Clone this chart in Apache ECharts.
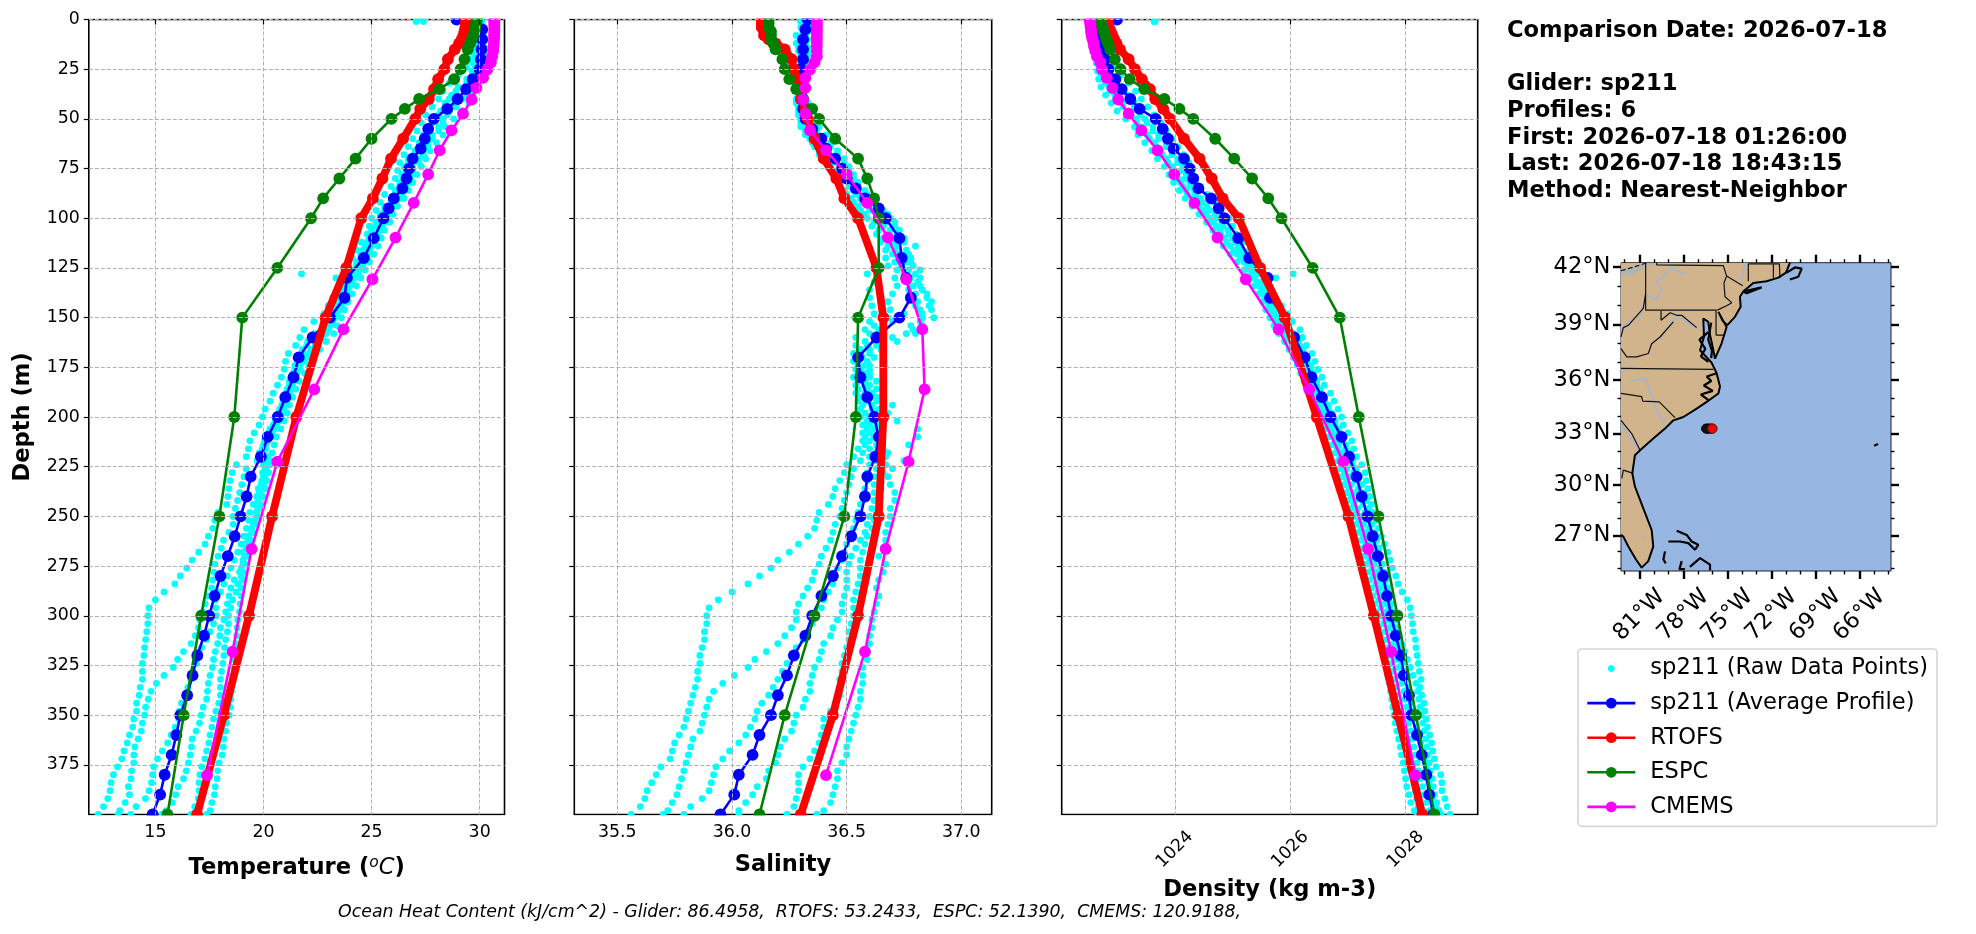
<!DOCTYPE html>
<html><head><meta charset="utf-8">
<script src="https://cdn.jsdelivr.net/npm/echarts@6/dist/echarts.min.js"></script>
<style>html,body{margin:0;padding:0;background:#fff}#c{width:1976px;height:934px}</style></head>
<body><div id="c"></div>
<script>
// ---------- depth levels ----------
const avgDepth=[0,5,10,15,20,25,30,35,40,45,50,55,60,65,70,75,80,85,90,95,100,110,120,130,140,150,160,170,180,190,200,210,220,230,240,250,260,270,280,290,300,310,320,330,340,350,360,370,380,390,400];
const hycomDepth=[0,2,4,6,8,10,12,15,20,25,30,35,40,45,50,60,70,80,90,100,125,150,200,250,300,350,400];
const cmemsDepth=[0.5,1.5,2.6,3.8,5.1,6.4,7.9,9.6,11.4,13.5,15.8,18.5,21.6,25.2,29.4,34.4,40.3,47.4,55.8,65.8,77.9,92.3,109.7,130.7,155.9,186.1,222.5,266.4,318.1,380.2];
const rawDepthEven=[1,4,8,12,16,20,24,28,32,36,40,44,48,52,56,60,64,68,72,76,80,84,88,92,96,100,104,108,112,116,120,124,128,132,136,140,144,148,152,156,160,164,168,172,176,180,184,188,192,196,200,204,208,212,216,220,224,228,232,236,240,244,248,252,256,260,264,268,272,276,280,284,288,292,296,300,304,308,312,316,320,324,328,332,336,340,344,348,352,356,360,364,368,372,376,380,384,388,392,396,400];
const rawDepthOdd=[1,6,10,14,18,22,26,30,34,38,42,46,50,54,58,62,66,70,74,78,82,86,90,94,98,102,106,110,114,118,122,126,130,134,138,142,146,150,154,158,162,166,170,174,178,182,186,190,194,198,202,206,210,214,218,222,226,230,234,238,242,246,250,254,258,262,266,270,274,278,282,286,290,294,298,302,306,310,314,318,322,326,330,334,338,342,346,350,354,358,362,366,370,374,378,382,386,390,394,398,400];
// ---------- temperature ----------
const tempAvg=[28.93,30.12,30.12,30.09,30.06,30.0,29.68,29.37,28.98,28.5,27.88,27.62,27.46,27.27,26.9,26.74,26.62,26.43,26.03,25.79,25.55,25.1,24.64,23.86,23.75,23.08,22.27,21.63,21.39,21.01,20.66,20.2,19.88,19.41,19.22,18.94,18.67,18.35,18.01,17.74,17.49,17.25,16.94,16.72,16.47,16.15,15.97,15.75,15.43,15.22,14.87];
const tempRtofs=[29.37,29.36,29.34,29.3,29.25,29.17,29.05,28.85,28.53,28.37,28.08,27.89,27.65,27.25,27.02,26.46,25.9,25.5,25.06,24.52,23.83,22.87,21.52,20.4,19.33,18.17,16.93];
const tempEspc=[29.88,29.83,29.8,29.77,29.72,29.64,29.56,29.45,29.3,29.12,28.82,28.15,27.2,26.54,25.92,25.0,24.26,23.51,22.76,22.2,20.64,19.02,18.65,17.96,17.12,16.31,15.56];
const tempCmems=[30.68,30.68,30.68,30.68,30.68,30.68,30.67,30.67,30.66,30.64,30.63,30.58,30.52,30.35,30.16,29.85,29.63,29.23,28.7,28.15,27.62,26.95,26.11,25.04,23.7,22.35,20.64,19.45,18.57,17.39];
const tempRawA=[27.06,29.6,29.6,29.6,29.6,29.55,29.4,29.0,28.6,28.3,28.1,27.8,27.5,27.3,27.1,26.9,26.7,26.5,26.3,26.2,26.1,25.9,25.6,25.4,25.2,25.0,24.9,24.8,24.5,24.3,24.1,23.9,21.76,23.6,23.5,23.2,23.0,22.8,22.33,21.87,21.68,21.49,21.15,21.02,20.96,20.83,20.65,20.45,20.3,20.08,19.95,19.8,19.57,19.37,19.3,19.2,18.75,18.55,18.45,18.4,18.35,18.3,17.9,17.75,17.65,17.45,17.3,17.0,16.7,16.45,16.15,15.9,15.4,15.0,14.7,14.65,14.65,14.6,14.55,14.5,14.47,14.4,14.4,14.4,14.3,14.25,14.13,14.13,14.0,13.95,13.8,13.7,13.55,13.45,13.25,13.06,12.95,12.9,12.8,12.6,12.35];
const tempRawB=[27.4,29.8,29.8,29.75,29.75,29.7,29.65,29.4,29.0,28.7,28.4,28.2,27.9,27.6,27.4,27.2,27.0,26.7,26.5,26.4,26.3,26.1,25.9,25.6,25.4,25.2,25.0,24.9,24.7,24.5,24.3,24.1,23.35,23.7,23.6,23.4,23.2,23.0,22.8,22.35,22.05,21.8,21.6,21.45,21.35,21.2,21.1,21.0,20.85,20.7,20.55,20.3,20.1,20.0,19.8,19.7,19.2,19.1,19.0,18.9,18.8,18.7,18.6,18.6,18.4,18.15,18.05,17.9,17.75,17.7,17.65,17.6,17.4,17.3,17.2,17.05,17.0,16.85,16.65,16.3,16.03,15.83,15.4,15.05,14.8,14.67,14.55,14.5,14.4,14.35,14.2,14.05,14.0,14.0,13.9,13.87,13.75,13.8,13.6,13.35,13.28];
const tempRawC=[29.7,29.9,29.9,29.9,29.9,29.85,29.8,29.65,29.4,28.9,28.6,28.4,28.1,27.8,27.6,27.4,27.2,27.0,26.7,26.6,26.5,26.3,26.1,25.9,25.6,25.4,25.2,25.0,24.8,24.6,24.5,24.3,24.1,23.8,23.7,23.6,23.4,23.2,23.0,22.7,22.3,22.0,21.8,21.6,21.45,21.3,21.2,21.05,20.9,20.75,20.65,20.45,20.25,20.05,19.95,20.0,20.0,19.96,19.92,19.76,19.69,19.53,19.37,19.32,19.21,19.1,18.97,18.81,18.65,18.49,18.33,18.17,18.01,17.77,17.8,17.82,17.69,17.53,17.37,17.14,17.01,16.9,16.74,16.63,16.5,16.42,16.21,16.1,16.07,15.91,15.73,15.57,15.32,15.1,14.92,14.87,14.82,14.71,14.54,14.11,13.87];
const tempRawD=[29.8,30.0,30.0,30.0,30.0,30.0,29.95,29.8,29.6,29.3,28.9,28.6,28.3,28.1,27.8,27.6,27.4,27.2,26.9,26.8,26.7,26.5,26.3,26.0,25.8,25.6,25.4,25.2,25.0,24.8,24.6,24.4,24.2,24.0,23.8,23.7,23.5,23.3,23.1,22.9,22.5,22.2,22.0,21.7,21.55,21.4,21.3,21.1,21.0,20.85,20.7,20.5,20.3,20.1,20.0,20.05,20.1,20.05,20.0,19.84,19.76,19.76,19.69,19.53,19.45,19.29,19.21,19.13,19.05,18.89,18.65,18.49,18.41,18.33,18.25,18.17,18.01,17.98,17.88,17.77,17.69,17.64,17.53,17.45,17.41,17.37,17.21,17.12,17.04,16.88,16.7,16.67,16.61,16.53,16.43,16.3,16.05,15.94,15.78,15.5,15.3];
const tempRawE=[30.0,30.1,30.1,30.1,30.1,30.05,30.05,29.95,29.8,29.5,29.2,28.9,28.5,28.3,28.1,27.8,27.6,27.4,27.2,26.9,26.8,26.6,26.4,26.1,25.9,25.7,25.5,25.3,25.1,24.9,24.8,24.6,24.4,24.1,23.9,23.8,23.6,23.4,23.2,23.0,22.7,22.4,22.1,21.9,21.7,21.5,21.35,21.2,21.05,20.95,20.8,20.6,20.4,20.2,20.1,20.2,20.3,20.24,20.16,20.08,19.96,19.84,19.69,19.61,19.45,19.32,19.16,19.05,19.05,18.97,18.97,18.81,18.73,18.57,18.49,18.38,18.38,18.33,18.25,18.2,18.17,18.12,18.06,18.01,18.01,18.01,17.93,17.8,17.69,17.61,17.53,17.47,17.37,17.29,17.14,17.06,17.02,17.02,16.98,16.82,16.65];
const tempRawF=[30.1,30.2,30.2,30.2,30.2,30.15,30.1,30.05,29.95,29.7,29.5,29.2,28.8,28.4,28.3,28.0,27.7,27.5,27.3,27.1,26.9,26.7,26.5,26.2,26.0,25.85,25.6,25.45,25.3,25.1,24.9,24.7,24.5,24.3,24.1,23.9,23.75,23.6,23.4,23.25,22.9,22.6,22.3,22.1,21.9,21.65,21.5,21.35,21.2,21.1,20.95,20.8,20.6,20.5,20.4,20.3,20.1,20.0,19.89,19.8,19.76,19.73,19.69,19.61,19.53,19.4,19.37,19.21,19.16,19.05,19.02,18.97,18.97,18.92,18.89,18.81,18.78,18.76,18.73,18.68,18.65,18.62,18.59,18.55,18.52,18.49,18.46,18.41,18.3,18.25,18.17,18.14,18.09,17.95,17.88,17.85,17.77,17.73,17.61,17.53,17.37];
// ---------- salinity ----------
const salAvg=[36.33,36.32,36.31,36.31,36.31,36.30,36.31,36.31,36.31,36.31,36.32,36.35,36.39,36.41,36.45,36.48,36.50,36.54,36.58,36.64,36.67,36.73,36.74,36.76,36.78,36.73,36.63,36.55,36.56,36.59,36.62,36.64,36.625,36.59,36.58,36.56,36.52,36.48,36.44,36.39,36.35,36.32,36.27,36.24,36.20,36.17,36.12,36.09,36.03,36.01,35.95];
const salRtofs=[36.13,36.13,36.13,36.14,36.14,36.16,36.19,36.23,36.26,36.27,36.29,36.30,36.30,36.32,36.33,36.36,36.40,36.455,36.49,36.55,36.63,36.66,36.66,36.64,36.55,36.44,36.30];
const salEspc=[36.16,36.16,36.16,36.17,36.17,36.17,36.18,36.19,36.22,36.23,36.25,36.28,36.31,36.35,36.38,36.45,36.55,36.59,36.62,36.64,36.64,36.55,36.54,36.49,36.36,36.23,36.12];
const salCmems=[36.37,36.37,36.37,36.37,36.37,36.37,36.37,36.37,36.37,36.37,36.37,36.37,36.36,36.34,36.32,36.32,36.31,36.32,36.34,36.41,36.50,36.59,36.68,36.76,36.83,36.84,36.77,36.67,36.58,36.41];
const salRawA=[36.30,36.30,36.28,36.28,36.29,36.30,36.29,36.29,36.28,36.28,36.28,36.29,36.29,36.30,36.32,36.34,36.36,36.38,36.41,36.43,36.45,36.47,36.50,36.53,36.56,36.59,36.61,36.63,36.65,36.67,36.67,36.68,36.59,36.62,36.60,36.60,36.61,36.62,36.60,36.58,36.54,36.54,36.53,36.53,36.54,36.53,36.54,36.54,36.55,36.56,36.56,36.57,36.57,36.57,36.55,36.53,36.50,36.49,36.47,36.45,36.44,36.42,36.38,36.37,36.36,36.33,36.29,36.25,36.20,36.17,36.12,36.07,36.00,35.94,35.90,35.89,35.89,35.88,35.88,35.87,35.86,35.86,35.85,35.85,35.84,35.83,35.82,35.81,35.80,35.79,35.77,35.75,35.74,35.73,35.69,35.67,35.65,35.63,35.62,35.60,35.56];
const salRawB=[36.30,36.31,36.30,36.29,36.30,36.30,36.30,36.29,36.29,36.29,36.28,36.29,36.30,36.30,36.32,36.35,36.38,36.40,36.43,36.45,36.47,36.49,36.52,36.55,36.58,36.62,36.64,36.66,36.68,36.70,36.71,36.72,36.71,36.72,36.70,36.68,36.69,36.68,36.62,36.60,36.58,36.56,36.55,36.55,36.55,36.55,36.55,36.56,36.57,36.58,36.59,36.59,36.58,36.58,36.57,36.56,36.53,36.52,36.51,36.50,36.49,36.48,36.47,36.45,36.44,36.43,36.41,36.39,36.38,36.36,36.35,36.33,36.31,36.29,36.28,36.28,36.26,36.23,36.20,36.15,36.10,36.07,36.01,35.96,35.92,35.90,35.89,35.88,35.87,35.86,35.83,35.82,35.81,35.80,35.79,35.78,35.77,35.76,35.74,35.72,35.70];
const salRawC=[36.33,36.32,36.31,36.30,36.31,36.31,36.30,36.30,36.30,36.29,36.29,36.29,36.30,36.31,36.33,36.36,36.39,36.42,36.45,36.47,36.49,36.51,36.54,36.57,36.60,36.64,36.66,36.68,36.70,36.71,36.73,36.74,36.75,36.76,36.77,36.78,36.80,36.75,36.70,36.64,36.62,36.59,36.56,36.55,36.56,36.57,36.58,36.58,36.59,36.61,36.60,36.60,36.60,36.60,36.60,36.60,36.60,36.59,36.59,36.58,36.57,36.56,36.55,36.54,36.53,36.51,36.50,36.49,36.48,36.46,36.45,36.44,36.42,36.40,36.39,36.37,36.35,36.33,36.31,36.28,36.26,36.24,36.22,36.20,36.18,36.16,36.13,36.11,36.10,36.08,36.06,36.03,35.99,35.96,35.93,35.92,35.91,35.90,35.87,35.82,35.79];
const salRawD=[36.34,36.33,36.32,36.31,36.32,36.31,36.31,36.30,36.30,36.30,36.30,36.30,36.31,36.33,36.35,36.38,36.41,36.44,36.47,36.49,36.51,36.53,36.56,36.60,36.63,36.67,36.69,36.71,36.72,36.73,36.76,36.77,36.78,36.79,36.80,36.81,36.82,36.83,36.78,36.76,36.66,36.60,36.57,36.58,36.58,36.58,36.59,36.60,36.61,36.62,36.62,36.62,36.62,36.63,36.63,36.63,36.63,36.62,36.62,36.62,36.62,36.61,36.60,36.59,36.58,36.56,36.54,36.52,36.51,36.50,36.50,36.50,36.49,36.48,36.48,36.46,36.44,36.43,36.40,36.39,36.38,36.36,36.35,36.34,36.34,36.32,36.31,36.28,36.27,36.26,36.23,36.21,36.20,36.19,36.16,36.15,36.11,36.09,36.06,36.03,36.03];
const salRawE=[36.35,36.34,36.32,36.32,36.33,36.32,36.32,36.31,36.31,36.31,36.31,36.32,36.33,36.35,36.37,36.40,36.43,36.46,36.49,36.51,36.53,36.55,36.59,36.62,36.66,36.69,36.71,36.72,36.75,36.76,36.78,36.79,36.80,36.81,36.83,36.85,36.86,36.83,36.82,36.79,36.70,36.63,36.60,36.59,36.60,36.60,36.60,36.61,36.63,36.64,36.65,36.64,36.64,36.65,36.66,36.67,36.67,36.66,36.65,36.65,36.64,36.64,36.63,36.62,36.61,36.59,36.58,36.57,36.56,36.56,36.56,36.55,36.54,36.53,36.53,36.53,36.52,36.51,36.51,36.50,36.49,36.48,36.48,36.47,36.47,36.47,36.45,36.43,36.40,36.40,36.39,36.38,36.36,36.34,36.31,36.29,36.29,36.29,36.28,36.27,36.24];
const salRawF=[36.36,36.33,36.33,36.33,36.33,36.33,36.32,36.32,36.31,36.31,36.33,36.35,36.37,36.38,36.41,36.43,36.46,36.49,36.51,36.53,36.55,36.58,36.61,36.64,36.68,36.71,36.73,36.75,36.80,36.77,36.78,36.82,36.82,36.82,36.85,36.87,36.87,36.88,36.83,36.80,36.72,36.65,36.62,36.60,36.60,36.63,36.63,36.63,36.70,36.68,36.72,36.81,36.81,36.77,36.68,36.75,36.70,36.68,36.69,36.71,36.71,36.69,36.69,36.68,36.67,36.67,36.66,36.64,36.67,36.66,36.64,36.63,36.64,36.63,36.62,36.61,36.61,36.60,36.60,36.59,36.59,36.57,36.57,36.57,36.56,36.56,36.55,36.54,36.53,36.52,36.51,36.50,36.50,36.48,36.46,36.46,36.45,36.44,36.43,36.40,36.37];
// ---------- density ----------
const denAvg=[1023.0,1022.68,1022.71,1022.74,1022.79,1022.85,1022.97,1023.08,1023.23,1023.39,1023.67,1023.79,1023.88,1023.98,1024.16,1024.26,1024.32,1024.41,1024.63,1024.76,1024.86,1025.10,1025.29,1025.61,1025.65,1025.91,1026.07,1026.25,1026.37,1026.55,1026.70,1026.89,1027.02,1027.15,1027.24,1027.34,1027.43,1027.52,1027.61,1027.68,1027.75,1027.83,1027.92,1027.97,1028.06,1028.10,1028.20,1028.28,1028.36,1028.41,1028.48];
const denRtofs=[1022.84,1022.84,1022.86,1022.89,1022.92,1022.95,1022.99,1023.05,1023.20,1023.31,1023.43,1023.57,1023.66,1023.80,1023.92,1024.16,1024.43,1024.64,1024.83,1025.11,1025.48,1025.91,1026.46,1027.01,1027.45,1027.87,1028.29];
const denEspc=[1022.71,1022.73,1022.75,1022.77,1022.79,1022.82,1022.84,1022.88,1022.96,1023.06,1023.22,1023.47,1023.82,1024.08,1024.32,1024.70,1025.03,1025.34,1025.62,1025.85,1026.39,1026.86,1027.19,1027.53,1027.86,1028.18,1028.50];
const denCmems=[1022.53,1022.53,1022.54,1022.54,1022.55,1022.55,1022.56,1022.57,1022.59,1022.6,1022.62,1022.65,1022.71,1022.74,1022.82,1022.92,1023.02,1023.2,1023.42,1023.7,1023.99,1024.34,1024.74,1025.23,1025.8,1026.33,1026.92,1027.35,1027.75,1028.17];
const denRawA=[1023.66,1022.75,1022.76,1022.78,1022.8,1022.84,1022.92,1023.06,1023.2,1023.32,1023.42,1023.53,1023.64,1023.76,1023.85,1023.95,1024.05,1024.15,1024.24,1024.3,1024.36,1024.44,1024.56,1024.68,1024.8,1024.94,1025.0,1025.06,1025.2,1025.3,1025.4,1025.46,1026.05,1025.62,1025.68,1025.75,1025.85,1025.95,1026.04,1026.17,1026.21,1026.28,1026.38,1026.43,1026.48,1026.55,1026.59,1026.7,1026.76,1026.83,1026.89,1026.92,1027.0,1027.07,1027.1,1027.15,1027.24,1027.30,1027.32,1027.35,1027.38,1027.41,1027.44,1027.49,1027.53,1027.58,1027.63,1027.69,1027.73,1027.77,1027.83,1027.87,1027.94,1028.03,1028.08,1028.10,1028.12,1028.13,1028.17,1028.18,1028.20,1028.22,1028.24,1028.27,1028.25,1028.28,1028.32,1028.33,1028.36,1028.38,1028.42,1028.45,1028.47,1028.50,1028.53,1028.61,1028.63,1028.63,1028.68,1028.72,1028.77];
const denRawB=[1023.64,1022.72,1022.73,1022.74,1022.76,1022.78,1022.82,1022.92,1023.04,1023.18,1023.3,1023.38,1023.48,1023.62,1023.72,1023.85,1023.95,1024.05,1024.14,1024.2,1024.26,1024.34,1024.44,1024.56,1024.7,1024.82,1024.92,1025.0,1025.1,1025.2,1025.32,1025.4,1025.75,1025.55,1025.62,1025.7,1025.78,1025.86,1025.96,1026.06,1026.15,1026.22,1026.3,1026.36,1026.4,1026.46,1026.52,1026.58,1026.66,1026.72,1026.78,1026.84,1026.9,1026.97,1027.02,1027.08,1027.14,1027.2,1027.24,1027.28,1027.32,1027.36,1027.4,1027.42,1027.46,1027.5,1027.54,1027.57,1027.6,1027.63,1027.66,1027.69,1027.72,1027.75,1027.78,1027.82,1027.85,1027.89,1027.93,1027.98,1028.03,1028.08,1028.13,1028.18,1028.21,1028.23,1028.25,1028.27,1028.3,1028.32,1028.35,1028.37,1028.38,1028.41,1028.43,1028.46,1028.48,1028.5,1028.54,1028.58,1028.62];
const denRawC=[1022.85,1022.7,1022.7,1022.71,1022.72,1022.73,1022.76,1022.84,1022.95,1023.08,1023.2,1023.3,1023.4,1023.52,1023.62,1023.72,1023.85,1023.95,1024.05,1024.12,1024.18,1024.26,1024.36,1024.48,1024.6,1024.72,1024.84,1024.94,1025.04,1025.14,1025.26,1025.36,1025.44,1025.5,1025.58,1025.64,1025.72,1025.8,1025.88,1025.98,1026.08,1026.16,1026.24,1026.3,1026.35,1026.4,1026.46,1026.52,1026.6,1026.66,1026.72,1026.78,1026.84,1026.9,1026.96,1027.02,1027.07,1027.1,1027.13,1027.18,1027.22,1027.26,1027.3,1027.34,1027.37,1027.41,1027.45,1027.48,1027.52,1027.56,1027.6,1027.63,1027.67,1027.7,1027.72,1027.74,1027.77,1027.8,1027.84,1027.88,1027.91,1027.94,1027.98,1028.01,1028.04,1028.06,1028.1,1028.13,1028.15,1028.19,1028.23,1028.26,1028.29,1028.33,1028.36,1028.38,1028.4,1028.43,1028.47,1028.52,1028.56];
const denRawD=[1022.8,1022.66,1022.67,1022.67,1022.68,1022.7,1022.72,1022.78,1022.86,1022.96,1023.1,1023.2,1023.32,1023.42,1023.52,1023.64,1023.75,1023.85,1023.96,1024.04,1024.1,1024.2,1024.3,1024.42,1024.54,1024.66,1024.78,1024.86,1024.96,1025.08,1025.2,1025.3,1025.38,1025.46,1025.54,1025.6,1025.68,1025.76,1025.82,1025.92,1026.02,1026.1,1026.18,1026.24,1026.3,1026.36,1026.41,1026.46,1026.54,1026.6,1026.66,1026.72,1026.78,1026.84,1026.88,1026.94,1026.98,1027.02,1027.06,1027.1,1027.13,1027.17,1027.22,1027.27,1027.31,1027.36,1027.39,1027.43,1027.46,1027.5,1027.55,1027.58,1027.61,1027.63,1027.66,1027.69,1027.72,1027.76,1027.79,1027.83,1027.85,1027.88,1027.9,1027.93,1027.97,1027.99,1028.02,1028.05,1028.06,1028.09,1028.11,1028.14,1028.17,1028.2,1028.22,1028.25,1028.29,1028.32,1028.36,1028.4,1028.42];
const denRawE=[1022.72,1022.63,1022.63,1022.64,1022.65,1022.67,1022.69,1022.72,1022.79,1022.88,1022.98,1023.1,1023.24,1023.34,1023.42,1023.56,1023.68,1023.78,1023.88,1023.98,1024.05,1024.14,1024.22,1024.36,1024.48,1024.6,1024.72,1024.8,1024.9,1025.02,1025.14,1025.26,1025.34,1025.42,1025.5,1025.56,1025.64,1025.7,1025.78,1025.86,1025.96,1026.04,1026.12,1026.18,1026.24,1026.3,1026.36,1026.42,1026.48,1026.54,1026.6,1026.66,1026.72,1026.78,1026.82,1026.86,1026.9,1026.94,1026.98,1027.02,1027.06,1027.1,1027.15,1027.19,1027.23,1027.27,1027.31,1027.35,1027.38,1027.42,1027.45,1027.49,1027.52,1027.54,1027.57,1027.59,1027.62,1027.65,1027.67,1027.7,1027.72,1027.75,1027.77,1027.79,1027.81,1027.83,1027.86,1027.89,1027.93,1027.97,1027.99,1028.02,1028.05,1028.07,1028.12,1028.15,1028.16,1028.17,1028.19,1028.22,1028.25];
const denRawF=[1022.65,1022.6,1022.6,1022.6,1022.62,1022.64,1022.66,1022.68,1022.72,1022.8,1022.9,1023.0,1023.15,1023.3,1023.36,1023.48,1023.6,1023.7,1023.82,1023.9,1023.98,1024.08,1024.18,1024.3,1024.42,1024.55,1024.66,1024.74,1024.84,1024.96,1025.08,1025.2,1025.3,1025.38,1025.46,1025.52,1025.58,1025.65,1025.72,1025.8,1025.9,1025.98,1026.06,1026.12,1026.18,1026.24,1026.3,1026.36,1026.42,1026.48,1026.55,1026.6,1026.66,1026.72,1026.78,1026.83,1026.87,1026.9,1026.94,1026.97,1027.0,1027.05,1027.1,1027.14,1027.18,1027.23,1027.26,1027.29,1027.32,1027.35,1027.38,1027.41,1027.43,1027.46,1027.49,1027.51,1027.54,1027.56,1027.59,1027.61,1027.64,1027.67,1027.69,1027.72,1027.74,1027.76,1027.78,1027.8,1027.82,1027.85,1027.88,1027.91,1027.93,1027.96,1027.98,1028.0,1028.02,1028.06,1028.09,1028.15,1028.2];
// ---------- ticks and labels ----------
const depthTicks=[0,25,50,75,100,125,150,175,200,225,250,275,300,325,350,375];
const tempTicks=[15,20,25,30];
const salTicks=[35.5,36.0,36.5,37.0];
const denTicks=[1024,1026,1028];
const latTicks=[27,30,33,36,39,42];
const latMinor=[25,26,28,29,31,32,34,35,37,38,40,41];
const lonTicks=[-81,-78,-75,-72,-69,-66];
const lonMinor=[-82,-80,-79,-77,-76,-74,-73,-71,-70,-68,-67,-65,-64];
const legendNames=['sp211 (Raw Data Points)','sp211 (Average Profile)','RTOFS','ESPC','CMEMS'];
const infoLines=['Comparison Date: 2026-07-18','','Glider: sp211','Profiles: 6','First: 2026-07-18 01:26:00','Last: 2026-07-18 18:43:15','Method: Nearest-Neighbor'];
const footnote='Ocean Heat Content (kJ/cm^2) - Glider: 86.4958,  RTOFS: 53.2433,  ESPC: 52.1390,  CMEMS: 120.9188,';
// ---------- map outlines (lon, lat) ----------
const landOutline=[[-82.25,42.2],[-70.73,42.2],[-71.0,41.7],[-71.52,41.44],[-72.32,41.26],[-73.23,41.17],[-73.91,40.73],[-74.14,40.46],[-74.09,39.94],[-74.48,39.41],[-75.0,38.97],[-75.32,39.2],[-75.61,39.67],[-75.05,38.87],[-75.39,38.0],[-75.84,37.17],[-76.0,37.8],[-76.18,38.46],[-76.3,39.14],[-76.64,39.32],[-76.59,38.35],[-76.86,37.63],[-76.07,36.95],[-75.95,36.91],[-75.73,36.38],[-75.5,35.64],[-75.61,35.26],[-76.41,34.79],[-77.09,34.41],[-78.0,33.94],[-78.68,33.75],[-79.25,33.28],[-80.05,32.71],[-80.95,32.04],[-81.3,31.75],[-81.48,30.69],[-81.3,29.92],[-80.73,28.62],[-80.16,27.32],[-80.05,26.32],[-80.39,25.42],[-80.84,25.02],[-81.23,25.52],[-81.75,26.32],[-82.09,26.92],[-82.25,27.02]];
const lakeErie=[[-82.25,41.55],[-82.25,41.88],[-80.5,42.2],[-79.82,42.2],[-80.57,41.98],[-81.5,41.55]];
const lakeOkeechobee=[[-80.85,26.95],[-80.6,26.95],[-80.75,26.72]];
const erieLine=[[-82.25,41.79],[-81.3,42.0],[-80.5,42.19]];
const islandLines=[
 [[-73.91,40.73],[-72.66,40.94],[-73.68,40.64],[-73.91,40.73]],
 [[-70.95,41.7],[-70.39,41.96],[-69.93,41.9],[-70.16,41.49],[-70.73,41.35]],
 [[-75.73,36.38],[-76.4,36.2],[-76.1,35.95],[-76.6,35.7],[-76.0,35.4],[-76.8,35.2],[-76.3,34.9]],
 [[-76.3,38.6],[-76.9,38.2],[-76.5,37.7],[-76.8,37.3],[-76.3,37.0]],
 [[-76.1,39.1],[-76.3,38.2],[-76.05,37.6],[-76.1,37.2]],
 [[-78.45,27.28],[-77.77,27.02],[-77.43,26.62],[-76.98,26.42],[-77.2,26.12],[-77.66,26.52],[-78.23,26.62],[-79.02,26.62]],
 [[-79.25,26.02],[-79.36,25.52],[-79.2,25.28]],
 [[-78.11,25.42],[-78.27,24.92],[-77.89,24.92]],
 [[-77.55,25.06],[-76.86,25.6],[-76.18,25.2],[-76.18,24.86]],
 [[-65.0,32.3],[-64.72,32.4]]];
const stateLines=[
 [[-80.57,42.2],[-80.57,39.76],[-75.73,39.76]],
 [[-75.77,39.76],[-75.77,38.44],[-75.23,38.44]],
 [[-79.82,42.2],[-79.82,42.09],[-75.27,42.05],[-75.05,41.52],[-73.95,41.03]],
 [[-75.05,41.52],[-75.23,41.17],[-75.16,40.46],[-74.7,40.15],[-75.05,39.99],[-75.68,39.76]],
 [[-79.52,39.72],[-79.52,39.23],[-78.9,39.62],[-78.45,39.49],[-78.11,39.49],[-77.09,38.84]],
 [[-82.25,37.71],[-81.86,37.27],[-81.18,37.27],[-80.39,37.45],[-80.16,37.98],[-79.59,38.34],[-78.68,39.14]],
 [[-82.25,36.64],[-75.95,36.59]],
 [[-82.25,35.26],[-80.84,35.08],[-80.77,34.83],[-79.64,34.79],[-78.57,33.9]],
 [[-82.25,33.75],[-81.52,33.0],[-80.95,32.04]],
 [[-81.41,30.69],[-82.09,30.88],[-82.2,30.4]],
 [[-82.25,38.34],[-82.09,38.84],[-81.75,38.96],[-80.73,39.85],[-80.57,40.64]],
 [[-73.57,41.26],[-73.57,42.14],[-71.45,42.14],[-71.41,41.44]],
 [[-71.86,42.14],[-71.86,41.44]]];
const riverLines=[
 [[-80.5,40.55],[-79.82,40.29],[-79.55,40.82],[-79.82,41.26],[-79.25,41.61],[-78.8,41.96],[-78.23,41.7],[-77.89,41.65]],
 [[-82.25,38.7],[-81.75,39.14],[-80.95,39.49],[-80.57,40.46]],
 [[-79.59,38.26],[-78.45,39.49],[-77.09,38.79]],
 [[-81.64,35.93],[-80.61,36.11],[-80.39,35.64],[-79.82,34.32],[-79.2,33.47]],
 [[-73.8,42.2],[-74.02,41.26]],
 [[-82.25,33.57],[-81.07,32.04]],
 [[-82.25,36.46],[-81.45,36.82]]];
const gliderTrack=[[-76.45,33.28],[-76.38,33.28],[-76.3,33.28],[-76.2,33.28],[-76.1,33.28]];
const gliderLast=[[-76.02,33.28]];

// ---------- helpers ----------
const FONT='"DejaVu Sans"';
const merc=lat=>Math.asinh(Math.tan(lat*Math.PI/180));
const invMerc=m=>Math.atan(Math.sinh(m))*180/Math.PI;
const ll=pts=>pts.map(p=>[p[0],merc(p[1])]);
const zip=(xs,ds)=>xs.map((x,i)=>[x,ds[i]]);
const C={raw:'#00ffff',avg:'#0000ff',rtofs:'#ff0000',espc:'#008000',cmems:'#ff00ff'};
const series=[];
function panel(idx,raw,avg,rtofs,espc,cmems){
  const rawDepths=[rawDepthEven,rawDepthOdd,rawDepthEven,rawDepthOdd,rawDepthEven,rawDepthOdd];
  raw.forEach((r,i)=>series.push({type:'scatter',name:legendNames[0],xAxisIndex:idx,yAxisIndex:idx,data:zip(r,rawDepths[i]),symbol:'circle',symbolSize:6.8,itemStyle:{color:C.raw,opacity:1},silent:true,z:2}));
  const ln=(name,d,ds,col,w,z)=>series.push({type:'line',name,xAxisIndex:idx,yAxisIndex:idx,data:zip(d,ds),symbol:'circle',symbolSize:11.8,showSymbol:true,showAllSymbol:true,lineStyle:{color:col,width:w},itemStyle:{color:col,opacity:1},emphasis:{disabled:true},silent:true,z,animation:false,clip:true});
  ln(legendNames[1],avg,avgDepth,C.avg,2.6,3);
  ln(legendNames[2],rtofs,hycomDepth,C.rtofs,7.8,4);
  ln(legendNames[3],espc,hycomDepth,C.espc,2.6,5);
  ln(legendNames[4],cmems,cmemsDepth,C.cmems,2.6,6);
}
panel(0,[tempRawA,tempRawB,tempRawC,tempRawD,tempRawE,tempRawF],tempAvg,tempRtofs,tempEspc,tempCmems);
panel(1,[salRawA,salRawB,salRawC,salRawD,salRawE,salRawF],salAvg,salRtofs,salEspc,salCmems);
panel(2,[denRawA,denRawB,denRawC,denRawD,denRawE,denRawF],denAvg,denRtofs,denEspc,denCmems);

// map layers
const MAP=3;
const poly=(pts,fill,z)=>{const d=ll(pts);series.push({type:'custom',xAxisIndex:MAP,yAxisIndex:MAP,data:d,clip:true,z,silent:true,animation:false,
  renderItem:(p,api)=>p.dataIndex===0?{type:'polygon',shape:{points:d.map(q=>api.coord(q))},style:{fill:fill,stroke:'none'}}:null});};
const path=(pts,col,w,z,dash)=>series.push({type:'line',xAxisIndex:MAP,yAxisIndex:MAP,data:ll(pts),symbol:'none',lineStyle:{color:col,width:w,type:dash||'solid'},z,silent:true,animation:false,clip:true});
poly(landOutline,'#d2b48c',2);
poly(lakeErie,'#b3b3b3',3);
poly(lakeOkeechobee,'#b3b3b3',3);
riverLines.forEach(r=>path(r,'#98b6e2',1.4,3));
stateLines.forEach(r=>path(r,'#111',1.2,4));
path(erieLine,'#111',1.2,4,'dashed');
path(landOutline.slice(1),'#000',2,5);
islandLines.forEach(r=>path(r,'#000',2.2,5));
series.push({type:'scatter',xAxisIndex:MAP,yAxisIndex:MAP,data:ll(gliderTrack),symbolSize:9,itemStyle:{color:'#333',borderColor:'#000',borderWidth:1,opacity:1},z:6,silent:true});
series.push({type:'scatter',xAxisIndex:MAP,yAxisIndex:MAP,data:ll(gliderLast),symbolSize:9.5,itemStyle:{color:'#ff0000',borderColor:'#222',borderWidth:1,opacity:1},z:7,silent:true});

// ---------- layout ----------
const G=[{left:88.8,top:19.5,width:415.7,height:795},{left:574.3,top:19.5,width:417.4,height:795},{left:1061.7,top:19.5,width:416,height:795}];
const grid=G.map(g=>Object.assign({show:true,borderColor:'#000',borderWidth:1.6,backgroundColor:'#fff',z:1},g));
grid.push({show:true,left:1621,top:262.7,width:270,height:308.3,backgroundColor:'#98b6e2',borderColor:'#222',borderWidth:1,z:1});

const axLine={show:false};
const tick={show:true,length:5,lineStyle:{color:'#000',width:1.2}};
const split={show:true,lineStyle:{color:'#b0b0b0',width:1,type:[4,2]}};
const boldName={fontFamily:FONT,fontWeight:'bold',fontSize:22.6,color:'#000'};
const lbl=(cv,extra)=>Object.assign({show:true,customValues:cv,fontFamily:FONT,fontSize:17.36,color:'#000',margin:9},extra||{});
const xAxis=[
 {type:'value',gridIndex:0,min:11.92,max:31.15,axisLine:axLine,axisTick:Object.assign({customValues:tempTicks},tick),splitLine:split,axisLabel:lbl(tempTicks),z:20,
  name:'{b|Temperature (}{s|o}{i|C}{b|)}',nameLocation:'middle',nameGap:40,nameTextStyle:{rich:{b:boldName,s:{fontFamily:FONT,fontStyle:'italic',fontSize:15.5,verticalAlign:'bottom',padding:[0,0,11,0],color:'#000'},i:{fontFamily:FONT,fontStyle:'italic',fontSize:22.6,color:'#000'}}}},
 {type:'value',gridIndex:1,min:35.3125,max:37.1326,axisLine:axLine,axisTick:Object.assign({customValues:salTicks},tick),splitLine:split,axisLabel:lbl(salTicks,{formatter:v=>Number(v).toFixed(1)}),z:20,
  name:'Salinity',nameLocation:'middle',nameGap:39,nameTextStyle:boldName},
 {type:'value',gridIndex:2,min:1022.04,max:1029.25,axisLine:axLine,axisTick:Object.assign({customValues:denTicks},tick),splitLine:split,axisLabel:lbl(denTicks,{rotate:45,margin:35,align:'center',verticalAlign:'middle',formatter:v=>String(v)}),z:20,
  name:'Density (kg m-3)',nameLocation:'middle',nameGap:64,nameTextStyle:boldName},
];
const depthAxis=i=>({type:'value',gridIndex:i,inverse:true,min:0,max:400,axisLine:axLine,axisTick:Object.assign({customValues:depthTicks},tick),splitLine:split,z:20,
 axisLabel:i===0?lbl(depthTicks):{show:false,customValues:depthTicks},
 name:i===0?'Depth (m)':'',nameLocation:'middle',nameGap:54,nameTextStyle:boldName});
const yAxis=[depthAxis(0),depthAxis(1),depthAxis(2)];
const lonMin=-82.25,lonMax=-63.84,mMin=merc(24.81),mMax=merc(42.2);
const mapMajor={show:true,length:8,lineStyle:{color:'#000',width:2.4}};
const mapMinor={show:true,length:3.5,lineStyle:{color:'#000',width:1.4}};
const mapLbl=(cv,f,extra)=>Object.assign({show:true,customValues:cv,formatter:f,fontFamily:FONT,fontSize:22.6,color:'#000',margin:10.5},extra||{});
const lonFmt=v=>Math.abs(Math.round(v))+'\u00b0W', latFmt=v=>Math.round(invMerc(v))+'\u00b0N';
const latM=latTicks.map(merc), latN=latMinor.map(merc);
const mapX=(pos,vals,t,label)=>({type:'value',gridIndex:MAP,position:pos,min:lonMin,max:lonMax,axisLine:{show:false},splitLine:{show:false},axisTick:Object.assign({customValues:vals},t),axisLabel:label||{show:false,customValues:vals},z:20});
const mapY=(pos,vals,t,label)=>({type:'value',gridIndex:MAP,position:pos,min:mMin,max:mMax,axisLine:{show:false},splitLine:{show:false},axisTick:Object.assign({customValues:vals},t),axisLabel:label||{show:false,customValues:vals},z:20});
xAxis.push(mapX('bottom',lonTicks,mapMajor,mapLbl(lonTicks,lonFmt,{rotate:45,margin:44,align:'center',verticalAlign:'middle'})));
xAxis.push(mapX('top',lonTicks,mapMajor));
xAxis.push(mapX('bottom',lonMinor,mapMinor));
xAxis.push(mapX('top',lonMinor,mapMinor));
yAxis.push(mapY('left',latM,mapMajor,mapLbl(latM,latFmt)));
yAxis.push(mapY('right',latM,mapMajor));
yAxis.push(mapY('left',latN,mapMinor));
yAxis.push(mapY('right',latN,mapMinor));

const mask=G.flatMap(g=>[
 {type:'rect',z:10,silent:true,shape:{x:g.left-8,y:g.top-12,width:g.width+16,height:11},style:{fill:'#fff'}},
 {type:'rect',z:10,silent:true,shape:{x:g.left-8,y:g.top+g.height+1,width:g.width+16,height:11},style:{fill:'#fff'}}]);

const lineLegend=n=>({name:n,lineStyle:{width:2.6}});
const option={
 animation:false,backgroundColor:'#fff',grid,xAxis,yAxis,series,
 graphic:mask,
 title:[
  {text:infoLines.join('\n'),left:1507,top:17.5,padding:0,textStyle:{fontFamily:FONT,fontWeight:'bold',fontSize:22.6,lineHeight:26.7,color:'#000'}},
  {text:footnote,left:338,top:904,padding:0,textStyle:{fontFamily:FONT,fontStyle:'italic',fontWeight:'normal',fontSize:17.36,color:'#000'}}
 ],
 legend:{show:true,orient:'vertical',left:1578,top:649,padding:[8,9,8,8],itemWidth:48,itemHeight:13.5,itemGap:11.6,selectedMode:false,
  backgroundColor:'#fff',borderColor:'#d5d5d5',borderWidth:1.6,borderRadius:4,
  textStyle:{fontFamily:FONT,fontSize:22.6,color:'#000',padding:[0,0,0,10]},
  data:[{name:legendNames[0],icon:'path://M0 0h0M48 13.5h0M24 3.4a3.35 3.35 0 1 0 .01 0z',itemStyle:{color:C.raw}},lineLegend(legendNames[1]),lineLegend(legendNames[2]),lineLegend(legendNames[3]),lineLegend(legendNames[4])]}
};
const chart=echarts.init(document.getElementById('c'),null,{renderer:'canvas'});
chart.setOption(option);
</script></body></html>
